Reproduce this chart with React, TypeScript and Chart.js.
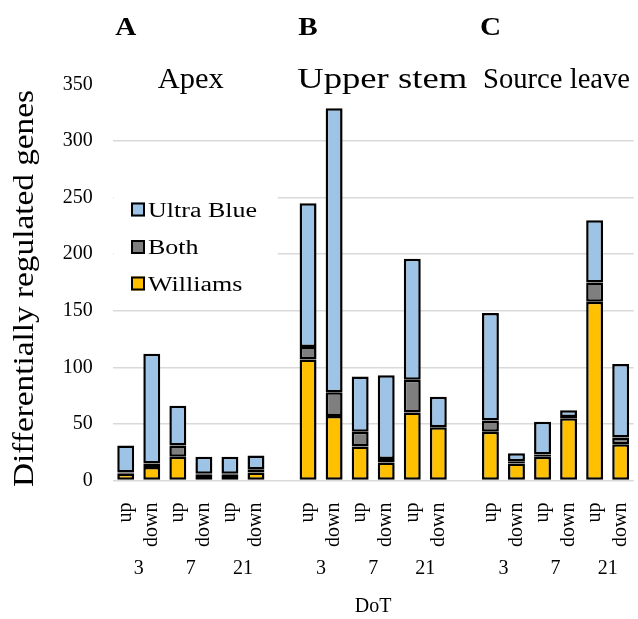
import React, { useEffect, useRef } from "react";
import { Chart, registerables } from "chart.js";

Chart.register(...registerables);

// ---- data ----
const categories = [
  "up", "down", "up", "down", "up", "down", "",
  "up", "down", "up", "down", "up", "down", "",
  "up", "down", "up", "down", "up", "down",
];
const dayLabels = [
  "3", "", "7", "", "21", "", "",
  "3", "", "7", "", "21", "", "",
  "3", "", "7", "", "21", "",
];
const williams = [6, 12, 21, 5, 5, 7, null, 107, 57, 30, 16, 60, 47, null, 43, 15, 21, 55, 158, 32];
const both = [1, 3, 10, 1, 1, 3, null, 11, 21, 13, 3, 29, 0, null, 10, 2, 2, 1, 17, 6];
const ultraBlue = [24, 97, 35, 15, 15, 12, null, 127, 251, 49, 74, 107, 27, null, 95, 7, 29, 6, 55, 65];
const panelLetters = ["A", "B", "C"];
const panelTitles = ["Apex", "Upper stem", "Source leave"];
const panelStart = [0, 7, 14];
const yTicks = [0, 50, 100, 150, 200, 250, 300, 350];
const seriesNames = ["Ultra Blue", "Both", "Williams"];
const yTitle = "Differentially regulated genes";
const xTitle = "DoT";

const FAMILY = "'Liberation Serif', 'Times New Roman', serif";
const COLORS: Record<string, string> = {
  "Ultra Blue": "#9DC3E6",
  Both: "#7F7F7F",
  Williams: "#FFC000",
};

function drawText(
  ctx: CanvasRenderingContext2D,
  s: string,
  x: number,
  y: number,
  font: string,
  o: { sx?: number; width?: number; align?: CanvasTextAlign; baseline?: CanvasTextBaseline; rot?: number } = {}
) {
  ctx.save();
  ctx.font = font;
  ctx.fillStyle = "#000";
  ctx.textAlign = o.align || "center";
  ctx.textBaseline = o.baseline || "alphabetic";
  ctx.translate(x, y);
  if (o.rot) ctx.rotate(o.rot);
  let k = o.sx || 1;
  if (o.width) k = o.width / ctx.measureText(s).width;
  ctx.scale(k, 1);
  ctx.fillText(s, 0, 0);
  ctx.restore();
}

const annotations = {
  id: "annotations",
  afterDraw(chart: any) {
    const ctx: CanvasRenderingContext2D = chart.ctx;
    const xs = chart.scales.x;
    const area = chart.chartArea;

    // legend (white box inside plot)
    ctx.save();
    ctx.fillStyle = "#fff";
    ctx.fillRect(area.left + 1, 150, 164, 155);
    ctx.restore();
    const rows = [209.5, 247, 283.5];
    seriesNames.forEach((n, i) => {
      ctx.save();
      ctx.fillStyle = COLORS[n];
      ctx.strokeStyle = "#000";
      ctx.lineWidth = 2;
      ctx.fillRect(131, rows[i] - 7, 14, 14);
      ctx.strokeRect(132, rows[i] - 6, 12, 12);
      ctx.restore();
      drawText(ctx, n, 148, rows[i] + 7, `20px ${FAMILY}`, { sx: 1.3, align: "left" });
    });

    // panel letters and titles
    const titleOffsets = [0, 9, 1];
    const titleWidths = [66, 170, 147];
    panelStart.forEach((st, i) => {
      const x0 = xs.getPixelForValue(st);
      const x1 = xs.getPixelForValue(st + 5);
      drawText(ctx, panelLetters[i], x0, 35, `bold 26px ${FAMILY}`, { sx: 1.12 });
      drawText(ctx, panelTitles[i], (x0 + x1) / 2 + titleOffsets[i], 88, `29px ${FAMILY}`, {
        width: titleWidths[i],
      });
    });

    // day labels
    dayLabels.forEach((d, i) => {
      if (!d) return;
      const xm = (xs.getPixelForValue(i) + xs.getPixelForValue(i + 1)) / 2;
      drawText(ctx, d, xm, 569, `20px ${FAMILY}`, { baseline: "middle" });
    });

    // x title
    drawText(ctx, xTitle, (area.left + area.right) / 2, 607, `20px ${FAMILY}`, { baseline: "middle" });

    // y title
    drawText(ctx, yTitle, 25, 288.5, `30px ${FAMILY}`, {
      rot: -Math.PI / 2,
      baseline: "middle",
      width: 397,
    });
  },
};

export default function App() {
  const ref = useRef<HTMLCanvasElement | null>(null);
  useEffect(() => {
    document.body.style.margin = "0";
    const canvas = ref.current!;
    const mk = (name: string, data: (number | null)[]) => ({
      label: name,
      data,
      backgroundColor: COLORS[name],
      borderColor: "#000",
      borderWidth: 2.5,
      borderSkipped: false as const,
      barPercentage: 0.65,
      categoryPercentage: 1,
    });
    const chart = new Chart(canvas, {
      type: "bar",
      data: {
        labels: categories,
        datasets: [mk("Williams", williams), mk("Both", both), mk("Ultra Blue", ultraBlue)],
      },
      options: {
        animation: false,
        responsive: false,
        maintainAspectRatio: false,
        layout: { padding: { top: 84.4, right: 4.3, left: 0, bottom: 0 } },
        plugins: { legend: { display: false }, tooltip: { enabled: false } },
        scales: {
          x: {
            stacked: true,
            grid: { display: false },
            border: { display: false },
            ticks: {
              autoSkip: false,
              maxRotation: 90,
              minRotation: 90,
              padding: 14,
              color: "#000",
              font: { family: FAMILY, size: 20 },
            },
            afterFit: (s: any) => {
              s.height = 138.5;
              s.paddingLeft = 0;
              s.paddingRight = 0;
            },
          },
          y: {
            stacked: true,
            min: 0,
            max: 350,
            afterBuildTicks: (s: any) => {
              s.ticks = yTicks.map((v) => ({ value: v }));
            },
            ticks: {
              padding: 20,
              color: "#000",
              font: { family: FAMILY, size: 20 },
            },
            grid: {
              color: (c: any) => (c.tick && c.tick.value === 350 ? "rgba(0,0,0,0)" : "#D9D9D9"),
              lineWidth: 1.4,
              drawTicks: false,
            },
            border: { display: false },
            afterFit: (s: any) => {
              s.width = 112.7;
              s.paddingTop = 0;
              s.paddingBottom = 0;
            },
          },
        },
      },
      plugins: [annotations],
    });
    return () => chart.destroy();
  }, []);
  return (
    <div style={{ width: 638, height: 619 }}>
      <canvas ref={ref} width={638} height={619} style={{ display: "block" }} />
    </div>
  );
}
